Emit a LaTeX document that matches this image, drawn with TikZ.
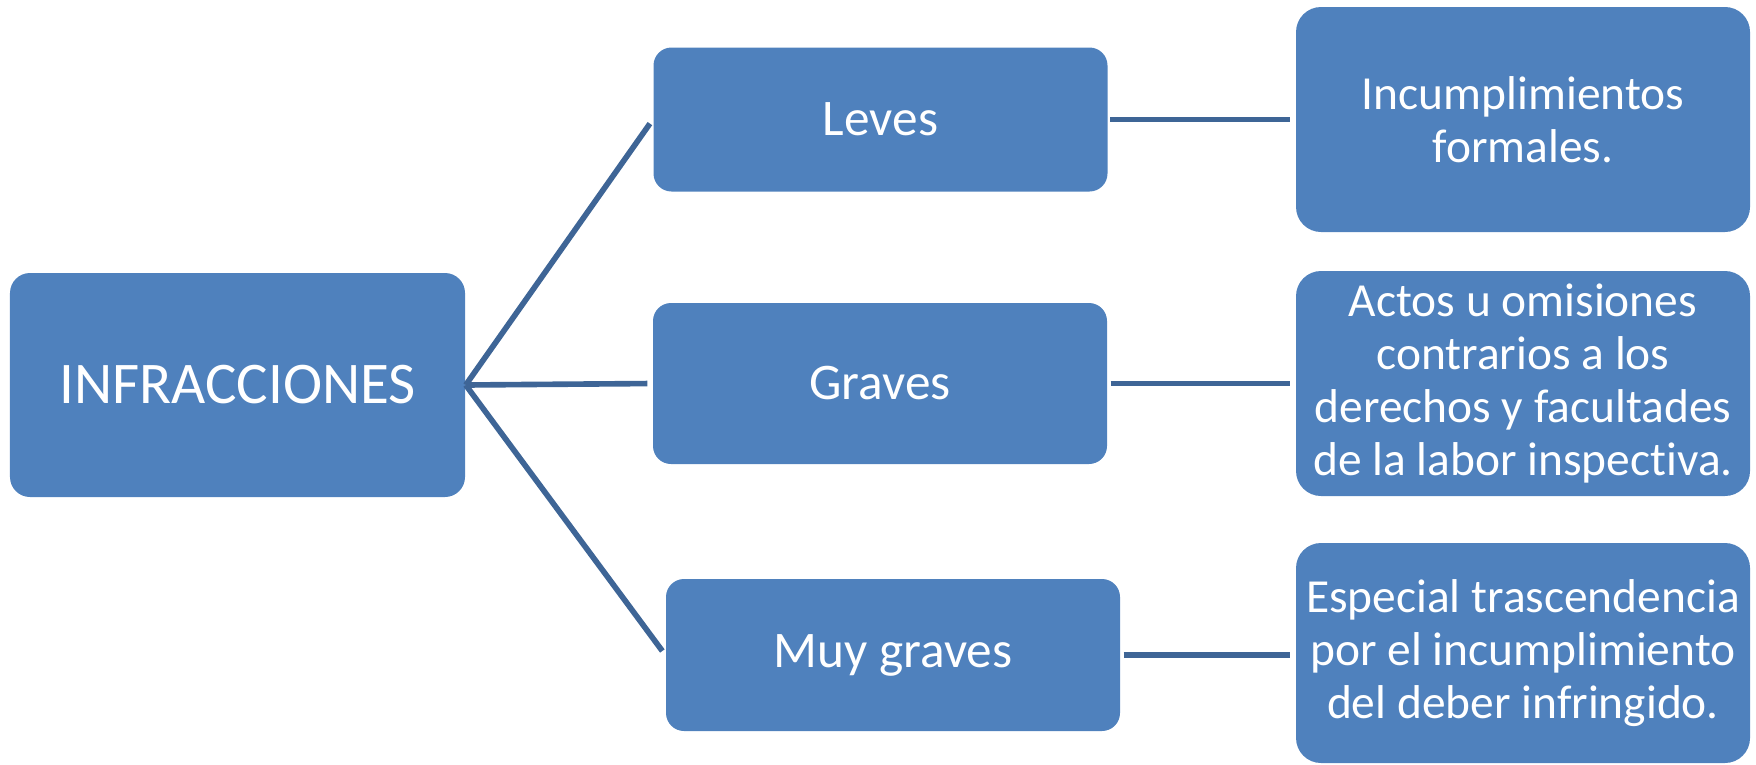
\documentclass[tikz,border=0pt]{standalone}
\usepackage{fontspec}
\setmainfont{Carlito}[Ligatures=NoCommon]
\usetikzlibrary{calc}
\definecolor{boxblue}{RGB}{79,129,189}
\definecolor{lineblue}{RGB}{62,101,150}
\tikzset{
  blok/.style={rectangle,rounded corners=.18cm,fill=boxblue,text=white,
    inner sep=0pt,align=center,minimum width=4.54cm},
  midfont/.style={font=\fontsize{14.6}{16}\selectfont},
  descfont/.style={font=\fontsize{13.5}{15}\selectfont,rounded corners=.25cm},
  tak/.style={draw=lineblue,line width=1.6pt,shorten >=.05cm}
}

\begin{document}
\begin{tikzpicture}
  \useasboundingbox (0,0) rectangle (17.56,7.64);
  \draw(2.375,3.79) node[blok,minimum width=4.55cm,minimum height=2.24cm,rounded corners=.2cm,
    font=\fontsize{16.8}{18}\selectfont] (infr) {INFRACCIONES};
  % tipos
  \draw(8.805,6.445) node[blok,midfont,minimum height=1.44cm] (leves) {Leves};
  \draw(8.80,3.805) node[blok,midfont,minimum height=1.61cm] (graves) {Graves};
  \draw(8.93,1.09) node[blok,midfont,minimum height=1.52cm] (muy) {Muy graves};
  % descripciones
  \draw(15.23,6.445) node[blok,descfont,minimum height=2.25cm] (desc1)
    {Incumplimientos\\formales.};
  \draw(15.23,3.805) node[blok,descfont,minimum height=2.25cm] (desc2)
    {Actos u omisiones\\contrarios a los\\derechos y facultades\\de la labor inspectiva.};
  \draw(15.23,1.11) node[blok,descfont,minimum height=2.20cm] (desc3)
    {Especial trascendencia\\por el incumplimiento\\del deber infringido.};
  \draw[tak] (infr.east) -- (leves.west);
  \draw[tak] (infr.east) -- (graves.west);
  \draw[tak] (infr.east) -- (muy.west);
  \draw[tak,shorten <=.02cm] (leves.east) -- (leves.east -| desc1.west);
  \draw[tak,shorten <=.03cm] (graves.east) -- (graves.east -| desc2.west);
  \draw[tak,shorten <=.03cm] (muy.east) -- (muy.east -| desc3.west);
\end{tikzpicture}
\end{document}
